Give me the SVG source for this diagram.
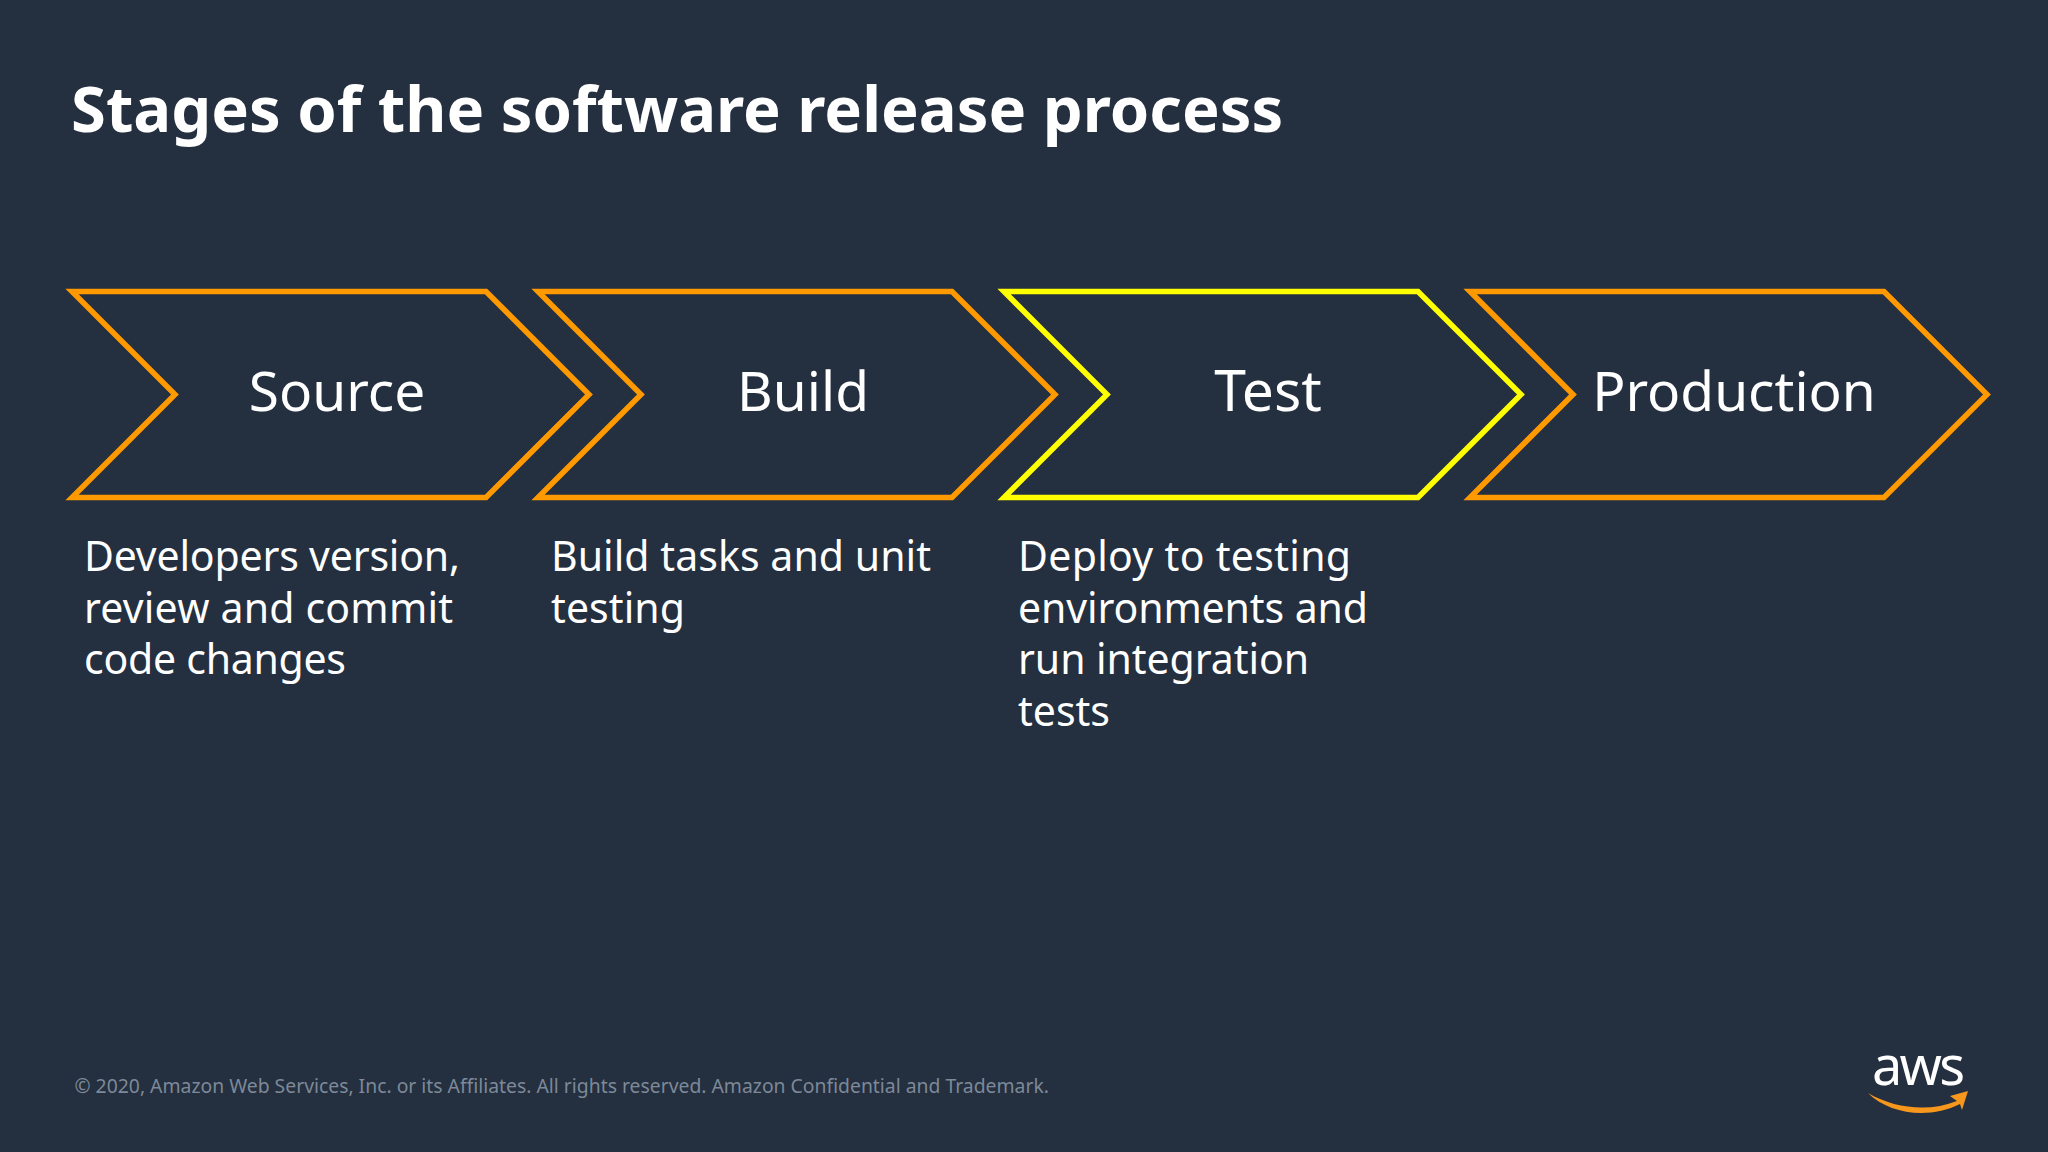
<svg xmlns="http://www.w3.org/2000/svg" width="2048" height="1152" viewBox="0 0 2048 1152">
<style>
text{font-family:"Noto Sans","Open Sans",sans-serif;fill:#fff}
.ch{fill:none;stroke-width:5.500;stroke:#ff9900;stroke-linejoin:miter}
.y{stroke:#ffff00}
.lab{font-size:55px;text-anchor:middle}
.body{font-size:41px}
</style>
<rect width="2048" height="1152" fill="#242f3f"/>
<text x="71" y="131.500" font-size="63.300" font-weight="700">Stages of the software release process</text>
<g id="source"><path class="ch" d="M72 291.500H486L589 394.500L486 497.500H72L175 394.500Z"/><text class="lab" x="337" y="411">Source</text></g>
<g id="build"><path class="ch" d="M538 291.500H952L1055 394.500L952 497.500H538L641 394.500Z"/><text class="lab" x="803" y="411">Build</text></g>
<g id="test"><path class="ch y" d="M1004 291.500H1418L1521 394.500L1418 497.500H1004L1107 394.500Z"/><text class="lab" x="1268" y="411" font-size="57" style="font-size:57px">Test</text></g>
<g id="production"><path class="ch" d="M1470 291.500H1884L1987 394.500L1884 497.500H1470L1573 394.500Z"/><text class="lab" x="1734" y="411">Production</text></g>
<g id="connectors"/>
<g class="body">
<text class="body" x="84" y="571" textLength="376">Developers version,</text><text class="body" x="84" y="622.500" textLength="369">review and commit</text><text class="body" x="84" y="674" textLength="262">code changes</text>
<text class="body" x="551" y="571" textLength="380">Build tasks and unit</text><text class="body" x="551" y="622.500" textLength="134">testing</text>
<text class="body" x="1018" y="571" textLength="333">Deploy to testing</text><text class="body" x="1018" y="622.500" textLength="350">environments and</text><text class="body" x="1018" y="674" textLength="291">run integration</text><text class="body" x="1018" y="725.500" textLength="92">tests</text>
</g>
<text x="74.500" y="1093" font-size="19.350" style="fill:#7d8998">© 2020, Amazon Web Services, Inc. or its Affiliates. All rights reserved. Amazon Confidential and Trademark.</text>
<g id="aws-logo"><text x="1872" y="1085" font-size="54" textLength="93">aws</text>
<path d="M1868 1093C1895 1109 1930 1112 1957 1101L1950 1096L1968 1091L1962 1110L1960 1104C1930 1119 1890 1115 1868 1093Z" fill="#f7981d"/></g>
</svg>
